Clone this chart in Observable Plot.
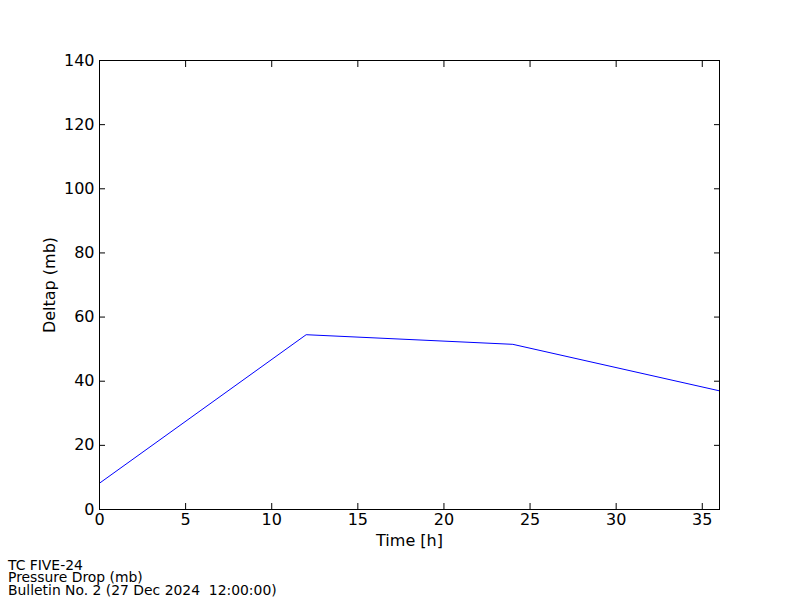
<!DOCTYPE html>
<html>
<head>
<meta charset="utf-8">
<script src="https://cdn.jsdelivr.net/npm/d3@7"></script>
<script src="https://cdn.jsdelivr.net/npm/@observablehq/plot@0.6"></script>
<style>
  html, body { margin: 0; padding: 0; background: #fff; }
  body { width: 800px; height: 600px; overflow: hidden; font-family: "DejaVu Sans", sans-serif; }
  #chart svg { display: block; }
  #caption { margin-top: 9px; padding-left: 8px; font-size: 13.9px; line-height: 12.3px; color: #000; }
</style>
</head>
<body>
<div id="chart"></div>
<div id="caption">
  <div>TC FIVE-24</div>
  <div>Pressure Drop (mb)</div>
  <div>Bulletin No. 2 (27 Dec 2024&nbsp; 12:00:00)</div>
</div>
<script>
const hours = [0, 12, 24, 36];
const deltap = [8.2, 54.5, 51.5, 37];
const xTicks = [0, 5, 10, 15, 20, 25, 30, 35];
const yTicks = [0, 20, 40, 60, 80, 100, 120, 140];
const xLabel = "Time [h]";
const yLabel = "Deltap (mb)";

const data = hours.map((h, i) => ({h, v: deltap[i]}));

const chart = Plot.plot({
  width: 800,
  height: 550,
  marginLeft: 99,
  marginRight: 81,
  marginTop: 60,
  marginBottom: 41,
  style: {fontFamily: "DejaVu Sans", fontSize: "16px", color: "#000", background: "#fff"},
  x: {domain: [0, 36]},
  y: {domain: [0, 140]},
  marks: [
    Plot.line(data, {x: "h", y: "v", stroke: "#0000ff", strokeWidth: 1}),
    Plot.axisX(xTicks, {anchor: "bottom", tickSize: 0, tickPadding: 4, label: null, fontSize: 16}),
    Plot.axisX(xTicks, {anchor: "bottom", tickSize: -6, text: null, label: null}),
    Plot.axisX(xTicks, {anchor: "top", tickSize: -6, text: null, label: null}),
    Plot.axisY(yTicks, {anchor: "left", tickSize: 0, tickPadding: 5, label: null, fontSize: 16}),
    Plot.axisY(yTicks, {anchor: "left", tickSize: -6, text: null, label: null}),
    Plot.axisY(yTicks, {anchor: "right", tickSize: -6, text: null, label: null}),
    Plot.frame({stroke: "#000", strokeWidth: 1}),
    Plot.text([xLabel], {frameAnchor: "bottom", text: d => d, dy: 31, lineAnchor: "middle", textAnchor: "middle", fontSize: 16}),
    Plot.text([yLabel], {frameAnchor: "left", text: d => d, dx: -50, rotate: -90, lineAnchor: "middle", textAnchor: "middle", fontSize: 16})
  ]
});
document.getElementById("chart").appendChild(chart);
</script>
</body>
</html>
